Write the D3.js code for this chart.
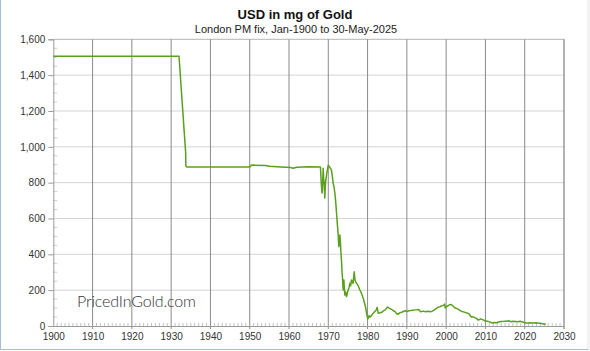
<!DOCTYPE html>
<html>
<head>
<meta charset="utf-8">
<script src="https://cdn.jsdelivr.net/npm/d3@7"></script>
<style>
  body { margin: 0; background: #fff; }
  svg text { font-family: "Liberation Sans", Arial, sans-serif; }
</style>
</head>
<body>
<div id="chart"></div>
<script>
// USD in mg of gold (London PM fix)
const years = [
  1900, 1932.0, 1933.7, 1933.75, 1934.0, 1950.0, 1950.5, 1954.0, 1955.0, 1958.0,
  1960.5, 1961.0, 1962.0, 1965.0, 1968.0, 1968.2, 1968.4, 1968.5, 1968.7, 1968.8,
  1969.0, 1969.1, 1969.3, 1969.6, 1970.0, 1970.4, 1970.8, 1971.0, 1971.25, 1971.5,
  1971.68, 1971.9, 1972.1, 1972.3, 1972.5, 1972.6, 1972.7, 1972.85, 1972.95, 1973.1,
  1973.25, 1973.4, 1973.5, 1973.6, 1973.7, 1973.8, 1973.97, 1974.1, 1974.2, 1974.4,
  1974.65, 1974.8, 1975.06, 1975.3, 1975.5, 1975.7, 1975.9, 1976.1, 1976.3, 1976.5,
  1976.6, 1976.8, 1977.0, 1977.2, 1977.6, 1978.04, 1978.4, 1978.9, 1979.2, 1979.5,
  1979.74, 1979.9, 1980.05, 1980.15, 1980.4, 1980.6, 1980.9, 1981.2, 1981.5, 1981.8,
  1982.2, 1982.45, 1982.7, 1982.9, 1983.2, 1983.6, 1984.0, 1984.5, 1985.1, 1985.5,
  1986.1, 1986.6, 1987.0, 1987.3, 1987.8, 1988.2, 1988.7, 1989.2, 1989.6, 1990.0,
  1990.5, 1991.0, 1991.5, 1992.1, 1992.6, 1993.0, 1993.5, 1994.2, 1994.8, 1995.4,
  1996.0, 1996.5, 1997.0, 1997.6, 1998.0, 1998.5, 1998.8, 1999.3, 1999.6, 1999.8,
  2000.1, 2000.5, 2000.9, 2001.3, 2001.8, 2002.3, 2002.8, 2003.3, 2003.8, 2004.3,
  2004.8, 2005.3, 2005.8, 2006.4, 2006.8, 2007.3, 2007.8, 2008.2, 2008.8, 2009.4,
  2009.9, 2010.5, 2011.0, 2011.7, 2012.3, 2012.9, 2013.5, 2014.0, 2014.8, 2015.3,
  2015.9, 2016.5, 2017.0, 2017.6, 2018.3, 2018.8, 2019.5, 2020.0, 2020.6, 2021.2,
  2021.8, 2022.3, 2022.9, 2023.5, 2024.0, 2024.5, 2025.0, 2025.4
];
const mg = [
  1505, 1505, 965, 893, 888, 888, 898, 896, 891, 887,
  884, 880, 886, 889, 888, 800, 742, 760, 880, 830,
  780, 714, 800, 850, 898, 885, 870, 840, 796, 770,
  740, 690, 629, 570, 517, 470, 442, 490, 508, 461,
  400, 350, 300, 275, 230, 201, 257, 210, 173, 190,
  164, 180, 201, 215, 238, 225, 257, 245, 238, 280,
  303, 257, 245, 238, 225, 201, 185, 154, 130, 105,
  71, 55, 40, 43, 58, 50, 55, 65, 72, 80,
  90, 104, 72, 71, 75, 76, 84, 90, 106, 100,
  93, 85, 80, 70, 66, 74, 77, 82, 85, 80,
  85, 86, 88, 90, 91, 92, 80, 83, 80, 82,
  80, 83, 90, 100, 105, 108, 112, 115, 122, 100,
  108, 113, 119, 120, 110, 100, 97, 90, 83, 79,
  76, 73, 68, 50, 52, 47, 41, 33, 40, 34,
  29, 26, 23, 17, 19, 18, 24, 25, 26, 27,
  29, 24, 26, 25, 24, 26, 22, 20, 16, 18,
  17, 17, 18, 16, 15, 13, 11, 10
];
const yTicks = [0, 200, 400, 600, 800, 1000, 1200, 1400, 1600];
const xTicks = d3.range(1900, 2031, 10);

const W = 590, H = 351;
const svg = d3.select("#chart").append("svg")
  .attr("width", W)
  .attr("height", H);

// frame
svg.append("rect").attr("x", 587).attr("y", 0).attr("width", 3).attr("height", H).attr("fill", "#f2f2f2");
svg.append("line").attr("x1", 0.5).attr("x2", 0.5).attr("y1", 0).attr("y2", 349.5).attr("stroke", "#a9bddb");
svg.append("line").attr("x1", 0).attr("x2", 588).attr("y1", 349.5).attr("y2", 349.5).attr("stroke", "#a9bddb");

const x = d3.scaleLinear().domain([1900, 2030]).range([53.3, 564]);
const y = d3.scaleLinear().domain([0, 1600]).range([326, 39.3]);

// horizontal grid
svg.append("g")
  .selectAll("line")
  .data(yTicks.slice(1))
  .join("line")
  .attr("x1", x(1900)).attr("x2", x(2030))
  .attr("y1", d => y(d)).attr("y2", d => y(d))
  .attr("stroke", d => d === 1600 ? "#b4b4b4" : "#d4d4d4");

// vertical grid
svg.append("g")
  .selectAll("line")
  .data(xTicks.slice(1))
  .join("line")
  .attr("x1", d => x(d)).attr("x2", d => x(d))
  .attr("y1", y(1600)).attr("y2", y(0) + 3)
  .attr("stroke", d => d === 2030 ? "#666" : "#8a8a8a");

// minor ticks
svg.append("g")
  .selectAll("line")
  .data(d3.range(50, 1600, 50).filter(d => d % 200 !== 0))
  .join("line")
  .attr("x1", x(1900)).attr("x2", x(1900) + 4)
  .attr("y1", d => y(d)).attr("y2", d => y(d))
  .attr("stroke", "#cfcfcf");

svg.append("g")
  .selectAll("line")
  .data(d3.range(1901, 2030).filter(d => d % 10 !== 0))
  .join("line")
  .attr("x1", d => x(d)).attr("x2", d => x(d))
  .attr("y1", y(0)).attr("y2", y(0) - 3)
  .attr("stroke", "#c2c2c2");

// axes
const yAxis = svg.append("g")
  .attr("transform", `translate(${x(1900)},0)`)
  .call(d3.axisLeft(y).tickValues(yTicks).tickFormat(d3.format(",")).tickSize(5).tickPadding(3));
yAxis.select(".domain").attr("stroke", "#9a9a9a");
yAxis.selectAll(".tick line").attr("stroke", "#9a9a9a");
yAxis.selectAll("text").attr("fill", "#333").style("font-size", "10px");

const xAxis = svg.append("g")
  .attr("transform", `translate(0,${y(0)})`)
  .call(d3.axisBottom(x).tickValues(xTicks).tickFormat(d3.format("d")).tickSize(0).tickPadding(7));
xAxis.select(".domain").attr("stroke", "#9a9a9a");
xAxis.selectAll("text").attr("fill", "#333").style("font-size", "10px");

// watermark
svg.append("text")
  .attr("x", 77).attr("y", 307)
  .attr("textLength", 119)
  .style("font-family", "Lato, 'DejaVu Sans', sans-serif")
  .style("font-weight", 300)
  .style("font-size", "16px")
  .attr("fill", "#333")
  .text("PricedInGold.com");

// series
const line = d3.line()
  .x((d, i) => x(years[i]))
  .y(d => y(d));

svg.append("path")
  .datum(mg)
  .attr("fill", "none")
  .attr("stroke", "#5aa01e")
  .attr("stroke-width", 1.5)
  .attr("stroke-linejoin", "round")
  .attr("d", line);

// titles
svg.append("text")
  .attr("x", 295).attr("y", 19)
  .attr("text-anchor", "middle")
  .style("font-size", "13px")
  .style("font-weight", "bold")
  .attr("fill", "#111")
  .text("USD in mg of Gold");

svg.append("text")
  .attr("x", 296).attr("y", 33)
  .attr("text-anchor", "middle")
  .style("font-size", "11px")
  .attr("fill", "#222")
  .text("London PM fix, Jan-1900 to 30-May-2025");
</script>
</body>
</html>
